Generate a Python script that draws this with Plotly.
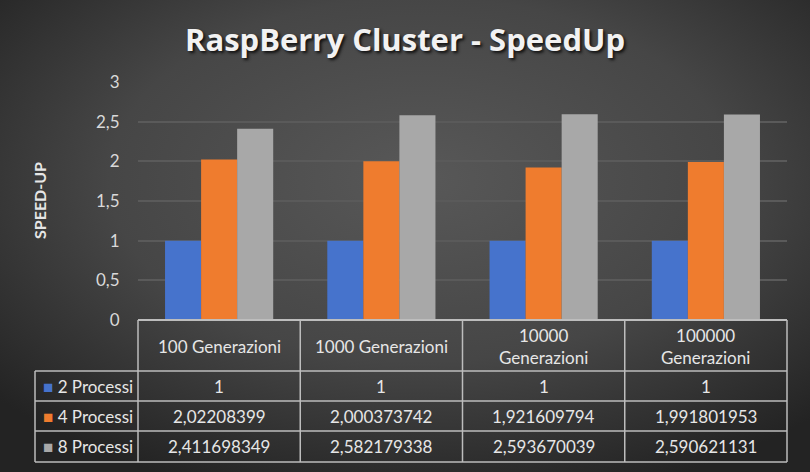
import plotly.graph_objects as go
import urllib.parse

categories = ["100 Generazioni", "1000 Generazioni", "10000 Generazioni", "100000 Generazioni"]
header_labels = ["100 Generazioni", "1000 Generazioni", "10000<br>Generazioni", "100000<br>Generazioni"]
series_names = ["2 Processi", "4 Processi", "8 Processi"]
values_2 = [1, 1, 1, 1]
values_4 = [2.02208399, 2.000373742, 1.921609794, 1.991801953]
values_8 = [2.411698349, 2.582179338, 2.593670039, 2.590621131]
series_values = [values_2, values_4, values_8]
colors = ["#4673cc", "#ef7c2e", "#a8a8a8"]

W, H = 810, 472
L, R, T, B = 138, 23, 82, 152
PW, PH = W - L - R, H - T - B
FONT = "Lato"
TXT = "#e6e6e6"
LINE = "#bdbdbd"
FS = 17

def px_x(x):
    return (x - L) / PW

def px_y(y):
    return (H - B - y) / PH

fig = go.Figure()
for name, vals, col in zip(series_names, series_values, colors):
    fig.add_trace(go.Bar(x=categories, y=vals, name=name, marker=dict(color=col, line=dict(width=0))))

svg = ('<svg xmlns="http://www.w3.org/2000/svg" width="810" height="472" preserveAspectRatio="none">'
       '<defs><radialGradient id="g" cx="52%" cy="38%" r="70%">'
       '<stop offset="0" stop-color="#585858"/><stop offset="0.55" stop-color="#464646"/><stop offset="1" stop-color="#232323"/>'
       '</radialGradient></defs><rect width="810" height="472" fill="url(#g)"/></svg>')
src = "data:image/svg+xml;charset=utf-8," + urllib.parse.quote(svg)

shapes = []
row_lines = [320, 371, 401, 431, 462]
for i, yy in enumerate(row_lines):
    x0 = px_x(138) if i == 0 else px_x(35)
    shapes.append(dict(type="line", xref="paper", yref="paper", x0=x0, x1=1, y0=px_y(yy), y1=px_y(yy),
                       line=dict(color=LINE, width=2 if i == 0 else 1.5)))
for k in range(len(categories) + 1):
    shapes.append(dict(type="line", xref="paper", yref="paper", x0=k / len(categories), x1=k / len(categories),
                       y0=px_y(320), y1=px_y(462), line=dict(color=LINE, width=1.5)))
shapes.append(dict(type="line", xref="paper", yref="paper", x0=px_x(35), x1=px_x(35),
                   y0=px_y(371), y1=px_y(462), line=dict(color=LINE, width=1.5)))

annotations = []
for cat, lab in zip(categories, header_labels):
    annotations.append(dict(x=cat, xref="x", y=px_y(346), yref="paper", text=lab, showarrow=False,
                            font=dict(family=FONT, size=FS, color=TXT), yanchor="middle"))
row_centers = [386, 416, 446]
for name, vals, col, yc in zip(series_names, series_values, colors, row_centers):
    annotations.append(dict(x=px_x(41), xref="paper", y=px_y(yc), yref="paper", xanchor="left",
                            text=f'<span style="color:{col}">■</span> {name}', showarrow=False,
                            font=dict(family=FONT, size=FS, color=TXT), yanchor="middle"))
    for cat, v in zip(categories, vals):
        annotations.append(dict(x=cat, xref="x", y=px_y(yc), yref="paper", text=str(v).replace(".", ","),
                                showarrow=False, font=dict(family=FONT, size=FS, color=TXT), yanchor="middle"))
annotations.append(dict(x=px_x(39), xref="paper", y=px_y(201), yref="paper", text="<b>SPEED-UP</b>",
                        textangle=-90, showarrow=False, xanchor="center", yanchor="middle",
                        font=dict(family=FONT, size=16, color=TXT)))

fig.update_layout(
    width=W, height=H,
    margin=dict(l=L, r=R, t=T, b=B),
    paper_bgcolor="#3c3c3c",
    plot_bgcolor="rgba(0,0,0,0)",
    separators=",.",
    showlegend=False,
    bargap=1/3, bargroupgap=0, barmode="group",
    title=dict(text="<b>RaspBerry Cluster - SpeedUp</b>", x=0.5, xanchor="center", y=1 - 40 / H,
               yanchor="middle", font=dict(family="Open Sans", size=31, color="#f2f2f2", shadow="2px 2px 3px #111")),
    xaxis=dict(showticklabels=False, showgrid=False, zeroline=False, showline=False, range=[-0.5, 3.5]),
    yaxis=dict(range=[0, 3], dtick=0.5, showgrid=True, gridcolor="#5a5a5a", gridwidth=1.5, zeroline=False,
               showline=False, ticks="outside", ticklen=14, tickcolor="rgba(0,0,0,0)",
               tickfont=dict(family=FONT, size=FS, color="#d9d9d9")),
    images=[dict(source=src, xref="paper", yref="paper", x=px_x(0), y=px_y(0), sizex=W / PW, sizey=H / PH,
                 sizing="stretch", layer="below", xanchor="left", yanchor="top")],
    shapes=shapes,
    annotations=annotations,
)

fig.write_html("out.html", config={"displayModeBar": False},
               post_script="document.body.style.margin='0';document.body.style.overflow='hidden';")
